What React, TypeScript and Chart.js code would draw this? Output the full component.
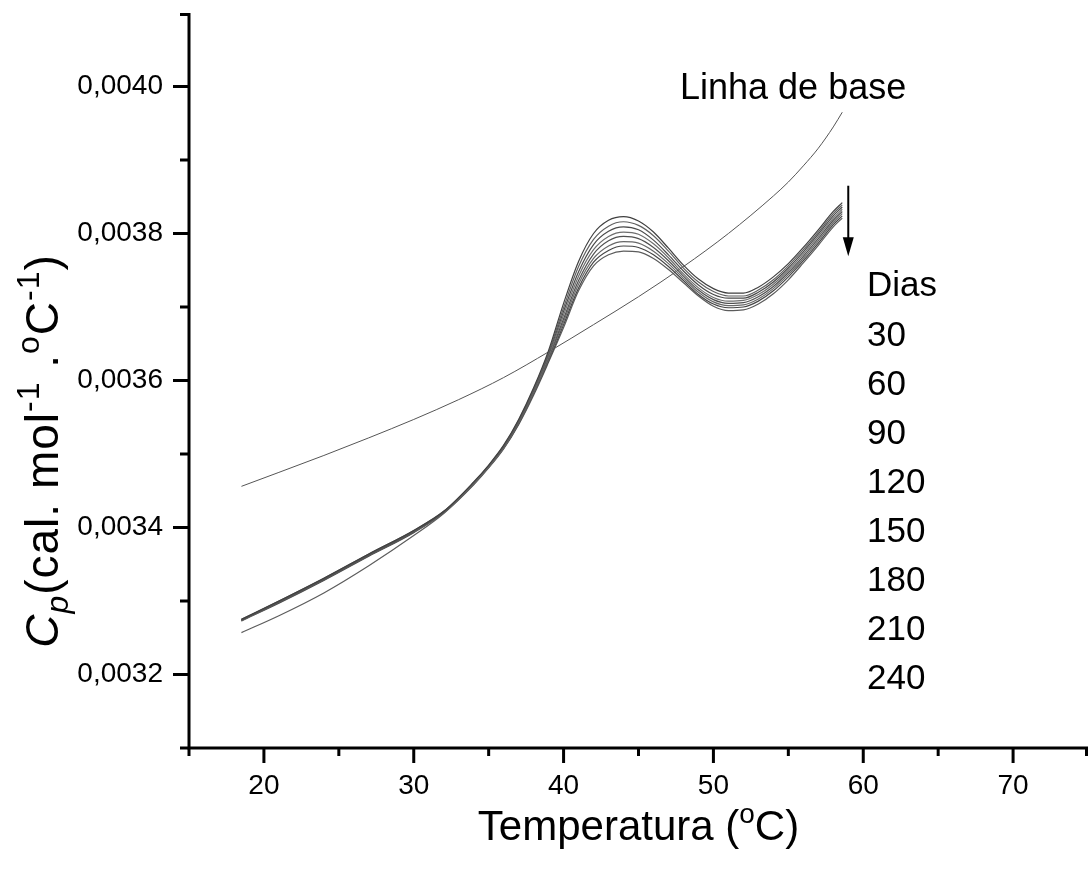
import React, { useEffect, useRef } from 'react';
import { Chart, registerables } from 'chart.js';

Chart.register(...registerables);

// Temperature grid (°C) for the DSC curves
const TEMPS = [18.5, 21, 24, 27, 30, 32, 34, 35, 36, 37, 38, 39, 40, 41, 42, 43, 44, 45, 46, 47, 48, 49, 50, 51, 52, 53, 54, 55, 56, 57, 58, 58.6];

const DIAS = ['30', '60', '90', '120', '150', '180', '210', '240'];

const CP_30 = [0.003275, 0.0033, 0.003331, 0.003364, 0.003396, 0.003422, 0.003462, 0.003485, 0.003512, 0.003547, 0.00359, 0.003641, 0.003705, 0.003762, 0.0038, 0.003818, 0.003823, 0.003817, 0.003802, 0.00378, 0.003757, 0.003738, 0.003725, 0.003719, 0.003719, 0.003727, 0.003741, 0.003759, 0.003781, 0.003805, 0.00383, 0.003842];
const CP_60 = [0.003275, 0.0033, 0.003331, 0.003364, 0.003396, 0.003422, 0.003461, 0.003484, 0.003511, 0.003546, 0.003588, 0.003638, 0.003699, 0.003755, 0.003792, 0.00381, 0.003816, 0.003811, 0.003797, 0.003776, 0.003753, 0.003734, 0.003721, 0.003715, 0.003715, 0.003723, 0.003737, 0.003756, 0.003778, 0.003802, 0.003827, 0.003839];
const CP_90 = [0.003274, 0.003299, 0.00333, 0.003363, 0.003395, 0.003421, 0.003461, 0.003484, 0.00351, 0.003545, 0.003587, 0.003636, 0.003694, 0.003748, 0.003785, 0.003803, 0.003809, 0.003805, 0.003791, 0.003771, 0.003749, 0.00373, 0.003717, 0.003712, 0.003712, 0.00372, 0.003734, 0.003753, 0.003775, 0.003799, 0.003824, 0.003836];
const CP_120 = [0.003274, 0.003299, 0.00333, 0.003363, 0.003395, 0.003421, 0.00346, 0.003483, 0.003509, 0.003544, 0.003585, 0.003633, 0.003689, 0.003742, 0.003778, 0.003796, 0.003802, 0.003799, 0.003786, 0.003767, 0.003745, 0.003726, 0.003713, 0.003708, 0.003709, 0.003717, 0.003731, 0.00375, 0.003772, 0.003796, 0.003821, 0.003833];
const CP_150 = [0.003274, 0.003298, 0.003329, 0.003362, 0.003394, 0.003421, 0.00346, 0.003483, 0.003509, 0.003543, 0.003584, 0.003631, 0.003684, 0.003736, 0.003772, 0.00379, 0.003796, 0.003793, 0.003781, 0.003763, 0.003742, 0.003723, 0.00371, 0.003705, 0.003706, 0.003714, 0.003728, 0.003747, 0.003769, 0.003793, 0.003818, 0.00383];
const CP_180 = [0.003273, 0.003298, 0.003329, 0.003362, 0.003394, 0.00342, 0.003459, 0.003482, 0.003508, 0.003542, 0.003583, 0.003629, 0.00368, 0.003731, 0.003766, 0.003783, 0.003789, 0.003787, 0.003776, 0.003759, 0.003739, 0.00372, 0.003707, 0.003702, 0.003703, 0.003711, 0.003725, 0.003744, 0.003766, 0.00379, 0.003815, 0.003827];
const CP_210 = [0.003273, 0.003297, 0.003328, 0.003361, 0.003393, 0.00342, 0.003459, 0.003482, 0.003508, 0.003541, 0.003582, 0.003627, 0.003676, 0.003726, 0.003761, 0.003777, 0.003783, 0.003781, 0.003771, 0.003755, 0.003736, 0.003717, 0.003704, 0.003699, 0.0037, 0.003708, 0.003722, 0.003741, 0.003763, 0.003787, 0.003812, 0.003824];
const CP_240 = [0.003257, 0.00328, 0.003311, 0.003348, 0.003389, 0.003419, 0.003458, 0.003481, 0.003507, 0.00354, 0.00358, 0.003625, 0.003672, 0.003722, 0.003756, 0.003771, 0.003776, 0.003775, 0.003766, 0.003751, 0.003733, 0.003715, 0.003701, 0.003695, 0.003696, 0.003704, 0.003718, 0.003737, 0.00376, 0.003784, 0.003809, 0.003821];

// Baseline ("Linha de base")
const BASE_T = [18.5, 21, 24, 27, 30, 33, 36, 39, 42, 45, 48, 51, 54, 55, 56, 57, 58, 58.6];
const BASE_CP = [0.003456, 0.003475, 0.003498, 0.003522, 0.003547, 0.003574, 0.003604, 0.003639, 0.003676, 0.003714, 0.003755, 0.0038, 0.003851, 0.00387, 0.003892, 0.003916, 0.003945, 0.003965];

// Arrow annotation (data coordinates)
const ARROW_T = 59.0;
const ARROW_TOP = 0.003865;
const ARROW_BOTTOM = 0.003769;

// Axis ticks
const X_TICKS = [20, 30, 40, 50, 60, 70];
const X_MINOR = [15, 25, 35, 45, 55, 65, 75];
const Y_TICKS = [0.0032, 0.0034, 0.0036, 0.0038, 0.004];
const Y_MINOR = [0.0031, 0.0033, 0.0035, 0.0037, 0.0039, 0.0041];

const SERIES = [CP_30, CP_60, CP_90, CP_120, CP_150, CP_180, CP_210, CP_240];
const COLORS = ['#404040', '#606060', '#4a4a4a', '#6e6e6e', '#505050', '#686868', '#454545', '#5c5c5c'];

const FAMILY = "'Liberation Sans', Arial, Helvetica, sans-serif";

type Seg = { t: string; size: number; dy: number; italic?: boolean };

function drawRich(ctx: CanvasRenderingContext2D, segs: Seg[], x: number, y: number) {
  const f = (s: Seg) => `${s.italic ? 'italic ' : ''}${s.size}px ${FAMILY}`;
  let w = 0;
  for (const s of segs) {
    ctx.font = f(s);
    w += ctx.measureText(s.t).width;
  }
  let cx = x - w / 2;
  for (const s of segs) {
    ctx.font = f(s);
    ctx.fillText(s.t, cx, y + s.dy);
    cx += ctx.measureText(s.t).width;
  }
}

const decorPlugin = {
  id: 'decor',
  afterDraw(chart: any) {
    const ctx: CanvasRenderingContext2D = chart.ctx;
    const { left, right, top, bottom } = chart.chartArea;
    const xs = chart.scales.x;
    const ys = chart.scales.y;
    ctx.save();
    ctx.strokeStyle = '#000';
    ctx.fillStyle = '#000';
    ctx.lineCap = 'butt';
    ctx.lineWidth = 3;
    // axis lines
    ctx.beginPath();
    ctx.moveTo(left, top);
    ctx.lineTo(left, bottom + 1.5);
    ctx.moveTo(left - 1.5, bottom);
    ctx.lineTo(right, bottom);
    ctx.stroke();
    // x ticks
    ctx.beginPath();
    for (const v of X_TICKS) {
      const p = xs.getPixelForValue(v);
      ctx.moveTo(p, bottom);
      ctx.lineTo(p, bottom + 15);
    }
    for (const v of X_MINOR) {
      const p = Math.min(xs.getPixelForValue(v), right - 1.5);
      ctx.moveTo(p, bottom);
      ctx.lineTo(p, bottom + 8);
    }
    // y ticks
    for (const v of Y_TICKS) {
      const p = ys.getPixelForValue(v);
      ctx.moveTo(left, p);
      ctx.lineTo(left - 16, p);
    }
    for (const v of Y_MINOR) {
      const p = Math.max(ys.getPixelForValue(v), top + 1.5);
      ctx.moveTo(left, p);
      ctx.lineTo(left - 9, p);
    }
    ctx.stroke();

    // arrow
    const ax = xs.getPixelForValue(ARROW_T);
    const ay1 = ys.getPixelForValue(ARROW_TOP);
    const ay2 = ys.getPixelForValue(ARROW_BOTTOM);
    ctx.lineWidth = 2;
    ctx.beginPath();
    ctx.moveTo(ax, ay1);
    ctx.lineTo(ax, ay2 - 16);
    ctx.stroke();
    ctx.beginPath();
    ctx.moveTo(ax - 5.5, ay2 - 19);
    ctx.lineTo(ax + 5.5, ay2 - 19);
    ctx.lineTo(ax, ay2);
    ctx.closePath();
    ctx.fill();

    // text annotations
    ctx.textBaseline = 'alphabetic';
    ctx.textAlign = 'left';
    ctx.font = `36px ${FAMILY}`;
    ctx.fillText('Linha de base', 680, 99);
    ctx.font = `35px ${FAMILY}`;
    ctx.fillText('Dias', 867, 296);
    DIAS.forEach((d, i) => {
      ctx.fillText(d, 867, 346 + i * 49);
    });

    // x title
    drawRich(
      ctx,
      [
        { t: 'Temperatura (', size: 42, dy: 0 },
        { t: 'o', size: 28, dy: -17 },
        { t: 'C)', size: 42, dy: 0 },
      ],
      (left + right) / 2,
      840
    );

    // y title
    ctx.save();
    ctx.translate(58, 451);
    ctx.rotate(-Math.PI / 2);
    (ctx as any).letterSpacing = '1px';
    drawRich(
      ctx,
      [
        { t: 'C', size: 46, dy: 0, italic: true },
        { t: 'p', size: 32, dy: 10, italic: true },
        { t: '(cal. mol', size: 46, dy: 0 },
        { t: '-1', size: 32, dy: -19 },
        { t: ' .', size: 46, dy: 0 },
        { t: 'o', size: 32, dy: -19 },
        { t: 'C', size: 46, dy: 0 },
        { t: '-1', size: 32, dy: -19 },
        { t: ')', size: 46, dy: 0 },
      ],
      0,
      0
    );
    ctx.restore();
    ctx.restore();
  },
};

export default function App() {
  const ref = useRef<HTMLCanvasElement | null>(null);
  useEffect(() => {
    if (!ref.current) return;
    const datasets: any[] = SERIES.map((s, i) => ({
      label: `${DIAS[i]} dias`,
      data: TEMPS.map((t, j) => ({ x: t, y: s[j] })),
      borderColor: COLORS[i],
      borderWidth: 1.2,
      pointRadius: 0,
      fill: false,
      cubicInterpolationMode: 'monotone',
    }));
    datasets.push({
      label: 'Linha de base',
      data: BASE_T.map((t, j) => ({ x: t, y: BASE_CP[j] })),
      borderColor: '#555555',
      borderWidth: 1,
      pointRadius: 0,
      fill: false,
      cubicInterpolationMode: 'monotone',
    });
    const chart = new Chart(ref.current, {
      type: 'line',
      data: { datasets },
      plugins: [decorPlugin],
      options: {
        responsive: false,
        animation: false,
        layout: { padding: { left: 0, right: 2, top: 13, bottom: 0 } },
        plugins: { legend: { display: false }, tooltip: { enabled: false } },
        scales: {
          x: {
            type: 'linear',
            min: 15,
            max: 75,
            grid: { display: false, drawTicks: false },
            border: { display: false },
            ticks: {
              color: '#000',
              font: { family: FAMILY, size: 28 },
              padding: 21,
              maxRotation: 0,
              autoSkip: false,
            },
            afterBuildTicks: (s: any) => {
              s.ticks = X_TICKS.map((v) => ({ value: v }));
            },
            afterFit: (s: any) => {
              s.height = 129;
              s.paddingLeft = 0;
              s.paddingRight = 0;
            },
          },
          y: {
            type: 'linear',
            min: 0.0031,
            max: 0.0041,
            grid: { display: false, drawTicks: false },
            border: { display: false },
            ticks: {
              color: '#000',
              font: { family: FAMILY, size: 28 },
              padding: 26,
              autoSkip: false,
              callback: (v: any) => Number(v).toFixed(4).replace('.', ','),
            },
            afterBuildTicks: (s: any) => {
              s.ticks = Y_TICKS.map((v) => ({ value: v }));
            },
            afterFit: (s: any) => {
              s.width = 189;
              s.paddingTop = 0;
              s.paddingBottom = 0;
            },
          },
        },
      },
    });
    return () => chart.destroy();
  }, []);
  return (
    <div style={{ position: 'fixed', left: 0, top: 0, width: 1090, height: 877, background: '#fff' }}>
      <canvas ref={ref} width={1090} height={877} style={{ width: 1090, height: 877 }} />
    </div>
  );
}
